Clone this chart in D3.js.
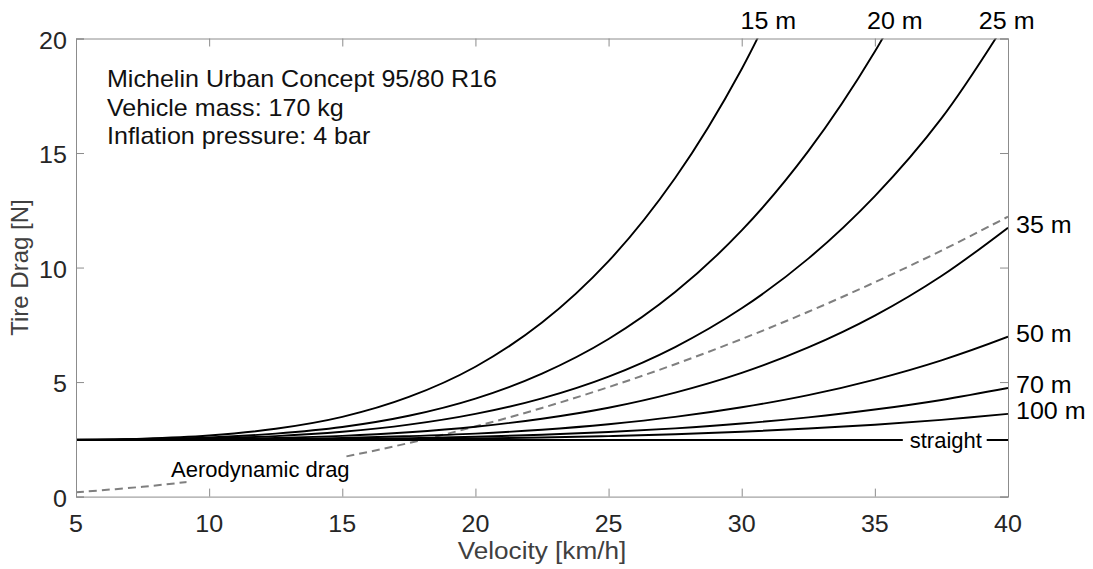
<!DOCTYPE html>
<html>
<head>
<meta charset="utf-8">
<script src="https://cdn.jsdelivr.net/npm/d3@7"></script>
<style>
  body { margin: 0; background: #fff; }
  svg { font-family: "Liberation Sans", Arial, sans-serif; }
</style>
</head>
<body>
<svg id="chart" width="1093" height="569"></svg>
<script>
// velocity grid [km/h]
const velocity = [5, 7.5, 10, 12.5, 15, 17.5, 20, 22.5, 25, 27.5, 30, 32.5, 35, 37.5, 40];

// tire drag [N] for each curve radius
const drag15 = [2.48, 2.53, 2.67, 2.96, 3.48, 4.35, 5.67, 7.60, 10.28, 13.91, 18.67, 24.78];
const drag20 = [2.48, 2.51, 2.58, 2.75, 3.04, 3.53, 4.28, 5.37, 6.88, 8.93, 11.62, 15.08, 19.43, 24.82];
const drag25 = [2.47, 2.49, 2.54, 2.64, 2.83, 3.14, 3.61, 4.29, 5.24, 6.53, 8.22, 10.39, 13.12, 16.51, 20.85];
const drag35 = [2.47, 2.48, 2.51, 2.56, 2.65, 2.81, 3.05, 3.40, 3.88, 4.54, 5.40, 6.51, 7.90, 9.63, 11.74];
const drag50 = [2.47, 2.48, 2.49, 2.51, 2.56, 2.64, 2.75, 2.92, 3.16, 3.48, 3.90, 4.43, 5.11, 5.95, 6.98];
const drag70 = [2.47, 2.47, 2.48, 2.49, 2.51, 2.55, 2.61, 2.70, 2.82, 2.98, 3.19, 3.46, 3.80, 4.22, 4.74];
const drag100 = [2.47, 2.47, 2.47, 2.48, 2.49, 2.51, 2.54, 2.58, 2.64, 2.72, 2.83, 2.97, 3.14, 3.35, 3.61];
const dragStraight = [2.47, 2.47, 2.47, 2.47, 2.47, 2.47, 2.47, 2.47, 2.47, 2.47, 2.47, 2.47, 2.47, 2.47, 2.47];
const aeroDrag = [0.19, 0.43, 0.76, 1.19, 1.72, 2.34, 3.06, 3.87, 4.78, 5.78, 6.88, 8.07, 9.36, 10.74, 12.22];

const curveNames = ["15 m", "20 m", "25 m", "35 m", "50 m", "70 m", "100 m", "straight"];
const curveValues = [drag15, drag20, drag25, drag35, drag50, drag70, drag100, dragStraight];

// labels above the plot (velocity where label is centred)
const topLabels = ["15 m", "20 m", "25 m"];
const topLabelV = [31.0, 35.75, 39.95];
// labels on the right side, placed at the curve end
const sideLabels = ["35 m", "50 m", "70 m", "100 m"];
const sideLabelSeries = [drag35, drag50, drag70, drag100];

const xTicks = [5, 10, 15, 20, 25, 30, 35, 40];
const yTicks = [0, 5, 10, 15, 20];

const infoLines = ["Michelin Urban Concept 95/80 R16", "Vehicle mass: 170 kg", "Inflation pressure: 4 bar"];

const W = 1093, H = 569;
const margin = { left: 76, right: 85, top: 38.5, bottom: 72.4 };
const innerW = W - margin.left - margin.right;
const innerH = H - margin.top - margin.bottom;
const axisColor = "#8c8c8c";
const labelColor = "#262626";
const fs = 23;

const svg = d3.select("#chart");
const g = svg.append("g").attr("transform", `translate(${margin.left},${margin.top})`);

const x = d3.scaleLinear().domain([5, 40]).range([0, innerW]);
const y = d3.scaleLinear().domain([0, 20]).range([innerH, 0]);

// sx: horizontal stretch, the lettering in the original is a little wide
function drawTxt(parent, tx, ty, txt, fill, size, anchor = "start", baseline = "auto", sx = 1.09) {
  return parent.append("text")
    .attr("x", 0)
    .attr("y", 0)
    .attr("transform", `translate(${tx},${ty}) scale(${sx},1)`)
    .attr("fill", fill)
    .attr("font-size", size)
    .attr("text-anchor", anchor)
    .attr("dominant-baseline", baseline)
    .text(txt);
}

function drawRect(parent, rx, ry, w, h, fill) {
  return parent.append("rect")
    .attr("x", rx).attr("y", ry)
    .attr("width", w).attr("height", h)
    .attr("fill", fill);
}

// clip for curves
g.append("clipPath").attr("id", "plotClip")
  .append("rect").attr("x", 0).attr("y", 0).attr("width", innerW).attr("height", innerH);

const line = d3.line()
  .x((d, i) => x(velocity[i]))
  .y(d => y(d))
  .curve(d3.curveCatmullRom.alpha(0.5));

const curves = g.append("g").attr("clip-path", "url(#plotClip)");

// aerodynamic drag (dashed grey)
curves.append("path")
  .attr("d", line(aeroDrag))
  .attr("fill", "none")
  .attr("stroke", "#7f7f7f")
  .attr("stroke-width", 2)
  .attr("stroke-dasharray", "8,5");

curveValues.forEach((vals, k) => {
  curves.append("path")
    .attr("d", line(vals))
    .attr("fill", "none")
    .attr("stroke", "#000")
    .attr("stroke-width", 1.9)
    .attr("id", "curve_" + k);
});

// white background behind in-plot labels (like MATLAB text BackgroundColor)
drawRect(g, x(9.15), y(1.85), x(15.0) - x(9.15), y(-0.3) - y(1.85), "#fff");
drawTxt(g, x(8.57), y(0.87), "Aerodynamic drag", "#000", 22, "start", "auto", 1);

drawRect(g, x(36.05), y(2.47) - 9, x(39.2) - x(36.05), 18, "#fff");
drawTxt(g, x(39.02), y(2.47), "straight", "#000", 22, "end", "central", 1);

// axes box, ticks pointing inward
const xAxisB = d3.axisBottom(x).tickValues(xTicks).tickSize(-8).tickFormat("");
const xAxisT = d3.axisTop(x).tickValues(xTicks).tickSize(-8).tickFormat("");
const yAxisL = d3.axisLeft(y).tickValues(yTicks).tickSize(-8).tickFormat("");
const yAxisR = d3.axisRight(y).tickValues(yTicks).tickSize(-8).tickFormat("");

const gxB = g.append("g").attr("transform", `translate(0,${innerH})`).call(xAxisB);
const gxT = g.append("g").call(xAxisT);
const gyL = g.append("g").call(yAxisL);
const gyR = g.append("g").attr("transform", `translate(${innerW},0)`).call(yAxisR);

[gxB, gxT, gyL, gyR].forEach(ax => {
  ax.select(".domain").attr("stroke", axisColor).attr("stroke-width", 1);
  ax.selectAll(".tick line").attr("stroke", axisColor);
});

// tick labels
xTicks.forEach(t => {
  drawTxt(g, x(t), innerH + 35, d3.format("d")(t), labelColor, fs, "middle");
});
yTicks.forEach(t => {
  drawTxt(g, -9, y(t) + 10, d3.format("d")(t), labelColor, fs, "end");
});

// axis titles
drawTxt(g, innerW / 2, innerH + 62, "Velocity [km/h]", "#404040", 24, "middle");
g.append("text")
  .attr("transform", `translate(${-48},${innerH / 2}) rotate(-90)`)
  .attr("text-anchor", "middle")
  .attr("fill", "#404040")
  .attr("font-size", 24)
  .text("Tire Drag [N]");

// info text
infoLines.forEach((t, i) => {
  drawTxt(g, 31, 48.8 + i * 28.4, t, "#111", fs);
});

// curve labels
topLabels.forEach((t, i) => {
  drawTxt(g, x(topLabelV[i]), -10, t, "#000", fs, "middle");
});
sideLabels.forEach((t, i) => {
  const vals = sideLabelSeries[i];
  drawTxt(g, innerW + 8, y(vals[vals.length - 1]) - 3, t, "#000", fs, "start", "central");
});
</script>
</body>
</html>
